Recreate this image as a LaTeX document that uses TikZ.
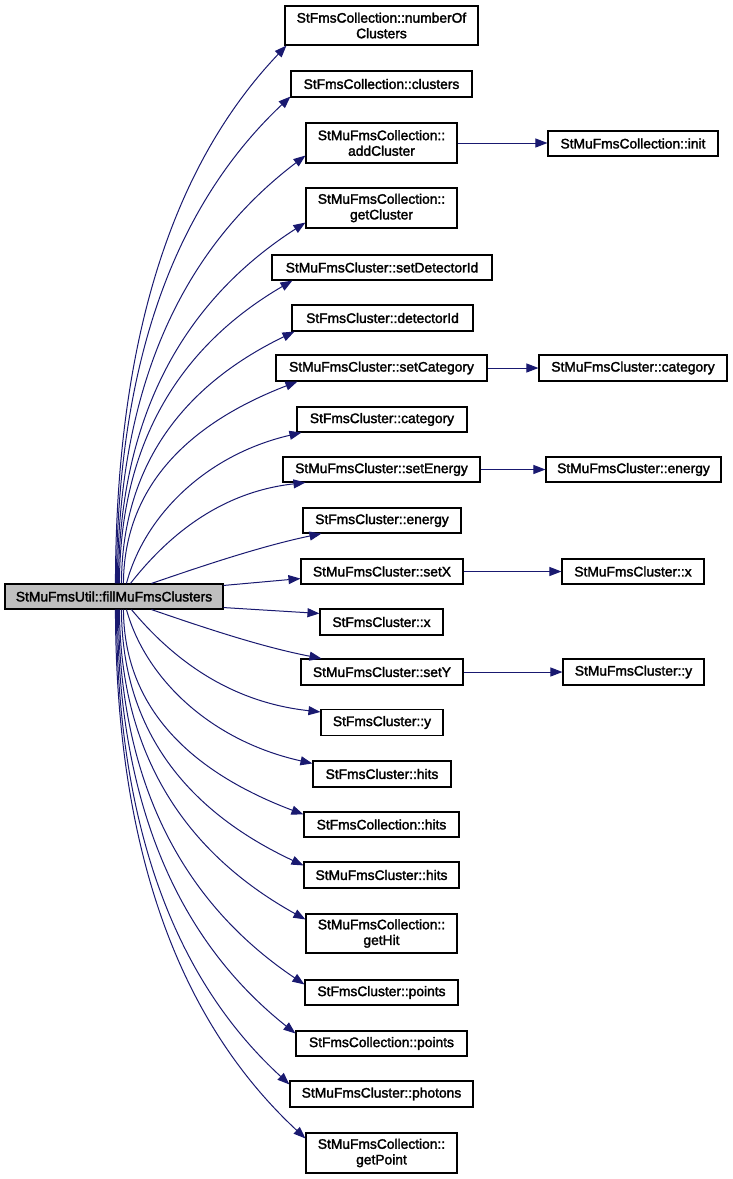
\documentclass[tikz,border=0pt]{standalone}
\usepackage{fontspec}
\setmainfont{Liberation Sans}
\newfontfamily\boxfont[FakeBold=2]{Liberation Sans}
\usetikzlibrary{arrows.meta}
\definecolor{edgecol}{HTML}{191970}
\definecolor{rootfill}{HTML}{BFBFBF}
\begin{document}
\begin{tikzpicture}[x=1pt,y=-1pt,
  box/.style={draw=black, line width=1.1pt, fill=white, inner sep=0pt, align=center,
    font=\boxfont\fontsize{13.8}{15.6}\selectfont},
  call/.style={draw=edgecol, line width=1pt, -{Triangle[length=12pt,width=9pt]}}]
\useasboundingbox (0,0) rectangle (732,1179);
% root
\node[box, fill=rootfill, minimum width=218pt, minimum height=25pt] (root) at (114,596.5) {StMuFmsUtil::fillMuFmsClusters};
% middle column
\node[box, minimum width=193pt, minimum height=39pt] (n1) at (381.5,25.5) {StFmsCollection::numberOf\\Clusters};
\node[box, minimum width=181pt, minimum height=26pt] (n2) at (381.5,84) {StFmsCollection::clusters};
\node[box, minimum width=151pt, minimum height=40pt] (n3) at (381.5,143) {StMuFmsCollection::\\addCluster};
\node[box, minimum width=151pt, minimum height=40pt] (n4) at (381.5,208) {StMuFmsCollection::\\getCluster};
\node[box, minimum width=220pt, minimum height=25pt] (n5) at (382,267.5) {StMuFmsCluster::setDetectorId};
\node[box, minimum width=181pt, minimum height=26pt] (n6) at (382.5,318) {StFmsCluster::detectorId};
\node[box, minimum width=211pt, minimum height=26pt] (n7) at (381.5,368) {StMuFmsCluster::setCategory};
\node[box, minimum width=170pt, minimum height=25pt] (n8) at (382,419.5) {StFmsCluster::category};
\node[box, minimum width=197pt, minimum height=25pt] (n9) at (381.5,469.5) {StMuFmsCluster::setEnergy};
\node[box, minimum width=158pt, minimum height=25pt] (n10) at (382,520.5) {StFmsCluster::energy};
\node[box, minimum width=162pt, minimum height=25pt] (n11) at (382,571.5) {StMuFmsCluster::setX};
\node[box, minimum width=123pt, minimum height=26pt] (n12) at (381.5,622) {StFmsCluster::x};
\node[box, minimum width=162pt, minimum height=26pt] (n13) at (382,672) {StMuFmsCluster::setY};
\node[box, minimum width=122pt, minimum height=26pt] (n14) at (382,722.5) {StFmsCluster::y};
\node[box, minimum width=138pt, minimum height=26pt] (n15) at (382,774) {StFmsCluster::hits};
\node[box, minimum width=155pt, minimum height=25pt] (n16) at (381.5,824.5) {StFmsCollection::hits};
\node[box, minimum width=155pt, minimum height=26pt] (n17) at (381.5,875) {StMuFmsCluster::hits};
\node[box, minimum width=151pt, minimum height=39pt] (n18) at (381.5,933.5) {StMuFmsCollection::\\getHit};
\node[box, minimum width=153pt, minimum height=25pt] (n19) at (381.5,992.5) {StFmsCluster::points};
\node[box, minimum width=171pt, minimum height=25pt] (n20) at (381.5,1043.5) {StFmsCollection::points};
\node[box, minimum width=183pt, minimum height=26pt] (n21) at (381.5,1094) {StMuFmsCluster::photons};
\node[box, minimum width=151pt, minimum height=40pt] (n22) at (381.5,1153) {StMuFmsCollection::\\getPoint};
% right column
\node[box, minimum width=170pt, minimum height=25pt] (r3) at (633,143.5) {StMuFmsCollection::init};
\node[box, minimum width=188pt, minimum height=26pt] (r7) at (633,368) {StMuFmsCluster::category};
\node[box, minimum width=175pt, minimum height=25pt] (r9) at (633.5,469.5) {StMuFmsCluster::energy};
\node[box, minimum width=142pt, minimum height=25pt] (r11) at (633,571.5) {StMuFmsCluster::x};
\node[box, minimum width=141pt, minimum height=26pt] (r13) at (633.5,672) {StMuFmsCluster::y};
% upper edges
\draw[call] ([shift={(111,0)}]root.north west) .. controls (116,314.5) and (184.4,152.8) .. ([shift={(2,0)}]n1.south west);
\draw[call] ([shift={(112,0)}]root.north west) .. controls (117,340.5) and (186.6,194.4) .. ([shift={(0,-1)}]n2.south west);
\draw[call] ([shift={(113,0)}]root.north west) .. controls (118,369.5) and (193.2,240.8) .. ([shift={(0,-8)}]n3.south west);
\draw[call] ([shift={(114,0)}]root.north west) .. controls (119,403) and (193.8,294.4) .. ([shift={(0,-6)}]n4.south west);
\draw[call] ([shift={(115,0)}]root.north west) .. controls (120,432) and (189.2,340.8) .. ([shift={(21,0)}]n5.south west);
\draw[call] ([shift={(117,0)}]root.north west) .. controls (122,457.5) and (191.2,381.6) .. ([shift={(3,0)}]n6.south west);
\draw[call] ([shift={(119,0)}]root.north west) .. controls (124,482.5) and (193.6,421.6) .. ([shift={(22,0)}]n7.south west);
\draw[call] ([shift={(122,0)}]root.north west) .. controls (144.5,515.6) and (205.8,454.8) .. ([shift={(5,0)}]n8.south west);
\draw[call] ([shift={(126,0)}]root.north west) .. controls (166,538) and (218.5,492.2) .. ([shift={(23,0)}]n9.south west);
\draw[call] ([shift={(147,0)}]root.north west) .. controls (205,565) and (262,546) .. ([shift={(19,0)}]n10.south west);
% straight edges
\draw[call] ([shift={(0,2)}]root.north east) -- ([shift={(0,-6)}]n11.south west);
\draw[call] ([shift={(0,-2)}]root.south east) -- ([shift={(0,5)}]n12.north west);
% lower edges
\draw[call] ([shift={(147,0)}]root.south west) .. controls (205,628) and (262,647) .. ([shift={(21,0)}]n13.north west);
\draw[call] ([shift={(127,0)}]root.south west) .. controls (169.6,655.4) and (226,701.7) .. ([shift={(0,3)}]n14.north west);
\draw[call] ([shift={(122,0)}]root.south west) .. controls (145.6,678.8) and (210.7,740.8) .. ([shift={(0,3)}]n15.north west);
\draw[call] ([shift={(119,0)}]root.south west) .. controls (124,712) and (196,773.8) .. ([shift={(0,3)}]n16.north west);
\draw[call] ([shift={(117,0)}]root.south west) .. controls (122,737.5) and (194.8,814.6) .. ([shift={(0,4)}]n17.north west);
\draw[call] ([shift={(115,0)}]root.south west) .. controls (120,764.5) and (194.4,857.8) .. ([shift={(0,6)}]n18.north west);
\draw[call] ([shift={(114,0)}]root.south west) .. controls (119,797) and (193.4,909.8) .. ([shift={(0,5)}]n19.north west);
\draw[call] ([shift={(113,0)}]root.south west) .. controls (118,821.5) and (189.2,949) .. ([shift={(0,3)}]n20.north west);
\draw[call] ([shift={(112,0)}]root.south west) .. controls (117,847) and (186.2,989.8) .. ([shift={(0,4)}]n21.north west);
\draw[call] ([shift={(111,0)}]root.south west) .. controls (116,874) and (192,1033) .. ([shift={(0,6)}]n22.north west);
% right edges
\draw[call] (n3.east) -- (n3.east -| r3.west);
\draw[call] (n7.east) -- (r7.west);
\draw[call] (n9.east) -- (r9.west);
\draw[call] (n11.east) -- (r11.west);
\draw[call] (n13.east) -- (r13.west);
\end{tikzpicture}
\end{document}
